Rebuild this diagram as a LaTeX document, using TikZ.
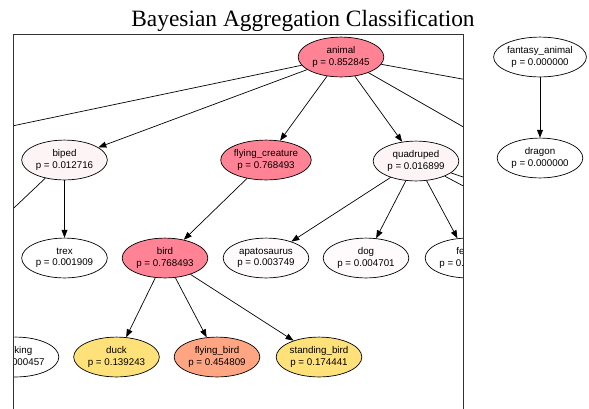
\documentclass[tikz,border=0pt]{standalone}
\usepackage{fontspec}
\usepackage{tikz}
\usepackage{xcolor}
\usetikzlibrary{shapes, positioning, arrows.meta}
\newfontfamily\nodefont{Liberation Sans}
\newfontfamily\titlefont{Liberation Serif}
\definecolor{hotpink}{RGB}{255,131,148}
\definecolor{warmgold}{RGB}{255,225,122}
\definecolor{salmon}{RGB}{255,165,130}
\definecolor{palepink}{RGB}{253,244,246}
\definecolor{faintpink}{RGB}{255,250,251}

\tikzset{
    cls/.style={ellipse, draw, line width=0.7pt, align=center, inner xsep=0pt,
        minimum width=86, minimum height=40,
        font=\nodefont\fontsize{9.8}{11.7}\selectfont},
    edge/.style={-{Triangle[length=8pt, width=6pt]}, line width=0.7pt},
    cut/.style={line width=0.7pt}
}

\begin{document}
\begin{tikzpicture}[x=1bp, y=-1bp]
        \useasboundingbox (0, 0) rectangle (589, 408);

        \node[anchor=base, font=\titlefont\fontsize{23.5}{26}\selectfont] (title) at (303, 26.7)
            {Bayesian Aggregation Classification};

        \begin{scope}
            \clip (13, 34) rectangle (463, 420);

            % top level
            \node[cls, fill=hotpink] (animal) at (341, 57) {animal\\p = 0.852845};

            % second level
            \node[cls, fill=palepink] (biped) at (64.5, 160) {biped\\p = 0.012716};
            \node[cls, fill=hotpink] (flying) at (266, 160) {flying\_creature\\p = 0.768493};
            \node[cls, fill=palepink] (quadruped) at (416, 161) {quadruped\\p = 0.016899};

            % third level
            \node[cls] (trex) at (64.5, 258) {trex\\p = 0.001909};
            \node[cls, fill=hotpink] (bird) at (165, 258) {bird\\p = 0.768493};
            \node[cls, fill=faintpink] (apato) at (266, 258) {apatosaurus\\p = 0.003749};
            \node[cls, fill=faintpink] (dog) at (366, 258) {dog\\p = 0.004701};
            \node[cls] (feline) at (468, 258) {feline\\p = 0.000000};

            % fourth level
            \node[cls] (walking) at (16, 357) {walking\\p = 0.000457};
            \node[cls, fill=warmgold] (duck) at (116.5, 357) {duck\\p = 0.139243};
            \node[cls, fill=salmon] (flybird) at (217, 357) {flying\_bird\\p = 0.454809};
            \node[cls, fill=warmgold] (standbird) at (319, 357) {standing\_bird\\p = 0.174441};

            % ends of edges that leave the frame
            \coordinate (offL) at (-150, 160);
            \coordinate (offR1) at (600, 104);
            \coordinate (offR2) at (600, 205);
            \coordinate (offB) at (-60, 278);
            \coordinate (offQ1) at (560, 210);
            \coordinate (offQ2) at (560, 237);

            \draw[cut] (animal) -- (offL);
            \draw[cut] (animal) -- (offR1);
            \draw[cut] (animal) -- (offR2);
            \draw[cut] (biped) -- (offB);
            \draw[cut] (quadruped) -- (offQ1);
            \draw[cut] (quadruped) -- (offQ2);

            \foreach \a/\b in {animal/biped, animal/flying, animal/quadruped,
                    biped/trex, flying/bird, quadruped/apato, quadruped/dog,
                    quadruped/feline, bird/duck, bird/flybird, bird/standbird} {
                \draw[edge] (\a) -- (\b);
            }
        \end{scope}

        \draw[line width=1pt, black!80] (13, 420) -- (13, 34) -- (463, 34) -- (463, 420);

        % unconnected part
        \node[cls] (fantasy) at (540, 57) {fantasy\_animal\\p = 0.000000};
        \node[cls, below=101bp of fantasy.center, anchor=center] (dragon) {dragon\\p = 0.000000};
        \draw[edge] (fantasy) -- (dragon);
    \end{tikzpicture}
\end{document}
